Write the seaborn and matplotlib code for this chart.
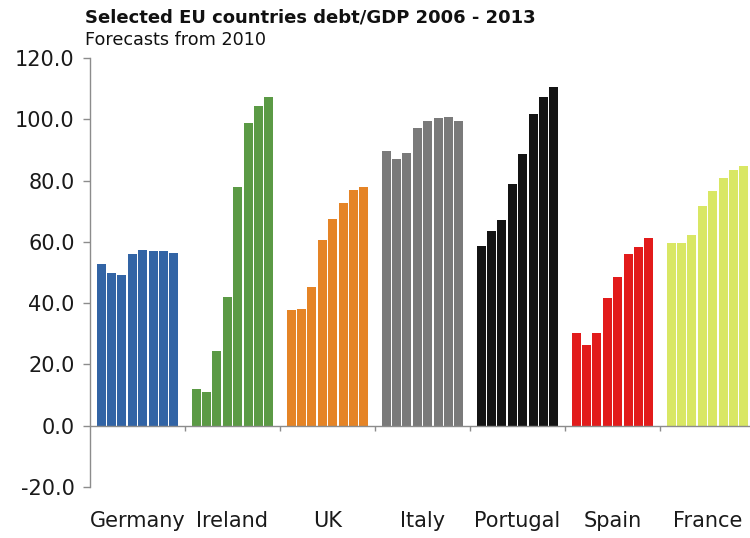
import numpy as np
import pandas as pd
import matplotlib
matplotlib.use("Agg")
import matplotlib.pyplot as plt
import seaborn as sns

countries = ["Germany", "Ireland", "UK", "Italy", "Portugal", "Spain", "France"]
years = [2006, 2007, 2008, 2009, 2010, 2011, 2012, 2013]
germany = [52.7, 49.9, 49.3, 56.1, 57.4, 57.1, 57.1, 56.4]
ireland = [12.1, 11.1, 24.5, 42.1, 78.0, 98.9, 104.4, 107.3]
uk = [37.8, 38.2, 45.3, 60.7, 67.5, 72.8, 77.0, 78.0]
italy = [89.7, 87.1, 89.1, 97.2, 99.5, 100.5, 100.8, 99.5]
portugal = [58.7, 63.6, 67.2, 79.0, 88.7, 101.8, 107.3, 110.6]
spain = [30.3, 26.4, 30.3, 41.8, 48.6, 56.1, 58.4, 61.3]
france = [59.7, 59.7, 62.3, 71.8, 76.7, 80.9, 83.5, 84.8]
series = [germany, ireland, uk, italy, portugal, spain, france]
colors = ["#3264A5", "#5B9A45", "#E58426", "#7A7A7A", "#141414", "#E21B1B", "#D9E764"]
yticks = [-20, 0, 20, 40, 60, 80, 100, 120]

rows = []
for c, vals in zip(countries, series):
    for yr, v in zip(years, vals):
        rows.append({"country": c, "year": str(yr), "value": v})
df = pd.DataFrame(rows)

sns.set_style("white")
plt.rcParams["font.family"] = ["DejaVu Sans"]

fig = plt.figure(figsize=(7.5, 5.38), dpi=100)
ax = fig.add_axes([90 / 750, 1 - 487 / 538, 665 / 750, (487 - 58) / 538])

sns.barplot(data=df, x="country", y="value", hue="year", order=countries,
            hue_order=[str(y) for y in years], width=0.875, gap=0.12,
            palette=["#888888"] * len(years), legend=False, ax=ax,
            saturation=1, errorbar=None, linewidth=0, edgecolor="none")

for cont in ax.containers:
    for i, bar in enumerate(cont):
        bar.set_facecolor(colors[i])
        bar.set_edgecolor("none")

ax.set_xlim(-0.5, len(countries) - 0.5)
ax.set_ylim(-20, 120)
ax.set_yticks(yticks)
ax.set_yticklabels([f"{t:.1f}" for t in yticks])
ax.set_xlabel("")
ax.set_ylabel("")

gray = "#8c8c8c"
for s in ["top", "right", "bottom"]:
    ax.spines[s].set_visible(False)
ax.spines["left"].set_color(gray)
ax.spines["left"].set_linewidth(1.0)
ax.tick_params(axis="y", direction="out", length=5, width=1, color=gray,
               labelsize=15, labelcolor="#1a1a1a", pad=6, left=True)
ax.tick_params(axis="x", length=0, labelsize=15, labelcolor="#1a1a1a", pad=17)

ax.axhline(0, color=gray, lw=1.0, zorder=3)
bounds = np.arange(len(countries) - 1) + 0.5
ax.vlines(bounds, 0, -1.7, color=gray, lw=1.0, zorder=3)

fig.text(85 / 750, 1 - 18 / 538, "Selected EU countries debt/GDP 2006 - 2013",
         fontsize=13, fontweight="bold", ha="left", va="center", color="#111111")
fig.text(85 / 750, 1 - 40 / 538, "Forecasts from 2010",
         fontsize=12.7, ha="left", va="center", color="#111111")

fig.savefig("out.png", dpi=100)
